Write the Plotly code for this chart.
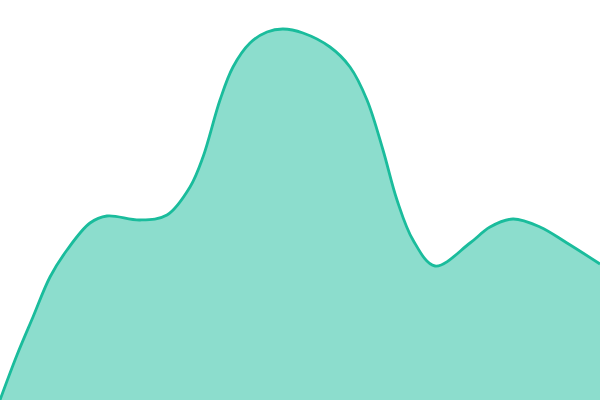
import plotly.graph_objects as go

# values (x in px across, y as 0-100 height)
xs = [0, 17, 33, 50, 67, 90, 107, 140, 167, 190, 203, 220, 233, 250, 267, 283,
      303, 330, 350, 367, 383, 397, 413, 435, 470, 490, 513, 540, 567, 600]
ys = [0, 11.25, 20.75, 30.75, 37.5, 44.25, 46, 45, 46.25, 53.25, 60.75, 75, 83.25,
      89.25, 92, 92.75, 91.75, 88.25, 83.25, 75, 62.5, 50, 40, 33.5, 39.25, 43.25,
      45.25, 43.25, 39.25, 34]

fig = go.Figure()
fig.add_scatter(
    x=xs,
    y=ys,
    mode='lines',
    line=dict(color='#1abc9c', width=2.8, shape='spline', smoothing=1),
    fill='tozeroy',
    fillcolor='rgba(26,188,156,0.5)',
    hoverinfo='skip',
)
fig.update_layout(
    width=600,
    height=400,
    margin=dict(l=0, r=0, t=0, b=0),
    paper_bgcolor='white',
    plot_bgcolor='white',
    showlegend=False,
    xaxis=dict(range=[0, 600], visible=False, fixedrange=True),
    yaxis=dict(range=[0, 100], visible=False, fixedrange=True),
)
# page body has a default margin; drop it so the chart sits at 0,0
fig.write_html("out.html", config={'displayModeBar': False},
               post_script="document.body.style.margin='0';document.body.style.overflow='hidden';")
